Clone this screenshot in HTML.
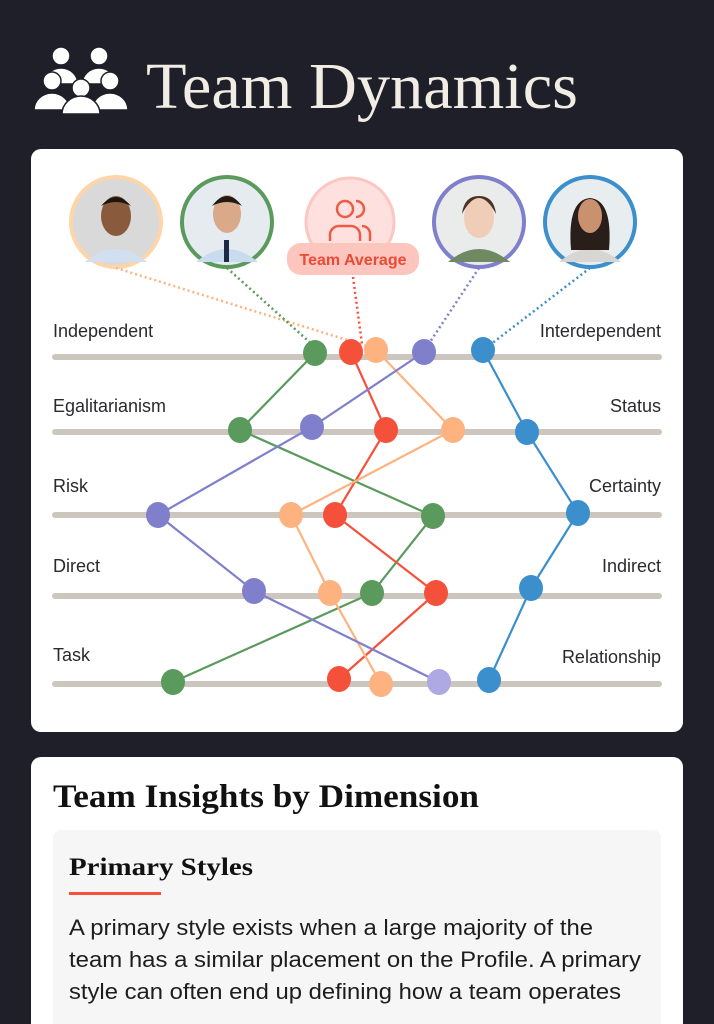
<!DOCTYPE html>
<html><head><meta charset="utf-8"><style>
html,body{margin:0;padding:0;background:#1e1f29;width:714px;height:1024px;overflow:hidden}
svg{display:block}
</style></head><body>
<svg width="714" height="1024" viewBox="0 0 714 1024" xmlns="http://www.w3.org/2000/svg">
<rect width="714" height="1024" fill="#1e1f29"/>
<!-- logo -->
<g fill="#ffffff" stroke="#1e1f29" stroke-width="1.5">
<circle cx="61" cy="56" r="9"/><circle cx="99" cy="56" r="9"/>
<path d="M44 84 a17 16 0 0 1 34 0 z"/><path d="M82 84 a17 16 0 0 1 34 0 z"/>
<circle cx="52" cy="81" r="9"/><circle cx="110" cy="81" r="9"/><circle cx="81" cy="88" r="9"/>
<path d="M34 110 a18 17 0 0 1 36 0 z"/><path d="M92 110 a18 17 0 0 1 36 0 z"/>
<path d="M62 114 a19 18 0 0 1 38 0 z"/>
</g>
<text x="146" y="108" font-family="Liberation Serif, serif" font-size="66" fill="#f1ede4" textLength="432" lengthAdjust="spacingAndGlyphs">Team Dynamics</text>

<!-- card 1 -->
<rect x="31" y="149" width="652" height="583" rx="10" fill="#ffffff"/>
<g>
<circle cx="116" cy="222" r="45" fill="#d9d9d9" stroke="#fdd5a8" stroke-width="4"/>
<path d="M85 262 q31-26 62 0 z" fill="#d2dff0"/><ellipse cx="116" cy="216" rx="15" ry="20" fill="#8a5a3c"/><path d="M101 206 q15-18 30 0 q-15-8-30 0z" fill="#1d1510"/>
<circle cx="227" cy="222" r="45" fill="#e6ebf0" stroke="#5a9a5c" stroke-width="4"/>
<path d="M196 262 q31-26 62 0 z" fill="#c9dbee"/><rect x="224" y="240" width="5" height="22" fill="#1d2a44"/><ellipse cx="227" cy="214" rx="14" ry="19" fill="#d9a98a"/><path d="M212 206 q15-20 30 0 q-15-8-30 0z" fill="#221a16"/>
<circle cx="350" cy="222" r="44" fill="#fee1df" stroke="#fcc7c1" stroke-width="3"/>
<g fill="none" stroke="#ef5a45" stroke-width="2.5"><circle cx="345" cy="209" r="8"/><path d="M356 201 a8 8 0 0 1 0 16"/><path d="M330 241 v-6 a9 9 0 0 1 9-9 h12 a9 9 0 0 1 9 9 v6"/><path d="M362 226 a8 8 0 0 1 8 9 v6"/></g>
<rect x="287" y="243" width="132" height="32" rx="14" fill="#fcc6bf"/>
<text x="353" y="265" text-anchor="middle" font-family="Liberation Sans, sans-serif" font-weight="bold" font-size="16" fill="#ea4a35">Team Average</text>
<circle cx="479" cy="222" r="45" fill="#e9ecea" stroke="#7f7fcc" stroke-width="4"/>
<path d="M448 262 q31-26 62 0 z" fill="#6f8a62"/><ellipse cx="479" cy="218" rx="15" ry="20" fill="#f0cdb6"/><path d="M462 214 q17-32 34 0 q-2-18-17-18 q-15 0-17 18z" fill="#4a3226"/>
<circle cx="590" cy="222" r="45" fill="#e8eef0" stroke="#3a8fcc" stroke-width="4"/>
<path d="M559 262 q31-26 62 0 z" fill="#d8d6d2"/><path d="M571 250 q-4-50 19-52 q23 2 19 52z" fill="#2a1e1a"/><ellipse cx="590" cy="216" rx="12" ry="17" fill="#c9916e"/>
</g>
<g fill="none" stroke-width="2.5" stroke-dasharray="2 3">
<line x1="116" y1="268" x2="376" y2="349" stroke="#fdb27f"/>
<line x1="227" y1="268" x2="315" y2="347" stroke="#5a9a5c"/>
<line x1="353" y1="277" x2="362" y2="344" stroke="#f5503a"/>
<line x1="479" y1="268" x2="426" y2="348" stroke="#7f7fcc"/>
<line x1="590" y1="268" x2="486" y2="348" stroke="#3a8fcc"/>
</g>
<g stroke="#cdc6bf" stroke-width="6" stroke-linecap="round">
<line x1="55" y1="357" x2="659" y2="357"/><line x1="55" y1="432" x2="659" y2="432"/>
<line x1="55" y1="515" x2="659" y2="515"/><line x1="55" y1="596" x2="659" y2="596"/>
<line x1="55" y1="684" x2="659" y2="684"/>
</g>
<g font-family="Liberation Sans, sans-serif" font-size="18" fill="#2a2a2e">
<text x="53" y="337">Independent</text><text x="661" y="337" text-anchor="end">Interdependent</text>
<text x="53" y="412">Egalitarianism</text><text x="661" y="412" text-anchor="end">Status</text>
<text x="53" y="492">Risk</text><text x="661" y="492" text-anchor="end">Certainty</text>
<text x="53" y="572">Direct</text><text x="661" y="572" text-anchor="end">Indirect</text>
<text x="53" y="661">Task</text><text x="661" y="663" text-anchor="end">Relationship</text>
</g>
<g fill="none" stroke-width="2.2">
<polyline points="315,353 240,430 433,516 372,593 173,682" stroke="#5a9a5c"/>
<polyline points="351,352 386,430 335,515 436,593 339,679" stroke="#f5503a"/>
<polyline points="376,350 453,430 291,515 330,593 381,684" stroke="#fdb27f"/>
<polyline points="424,352 312,427 158,515 254,591 439,682" stroke="#7f7fcc"/>
<polyline points="483,350 527,432 578,513 531,588 489,680" stroke="#3a8fcc"/>
</g>
<g>
<ellipse cx="315" cy="353" rx="12" ry="13" fill="#5a9a5c"/><ellipse cx="351" cy="352" rx="12" ry="13" fill="#f5503a"/><ellipse cx="376" cy="350" rx="12" ry="13" fill="#fdb27f"/><ellipse cx="424" cy="352" rx="12" ry="13" fill="#7f7fcc"/><ellipse cx="483" cy="350" rx="12" ry="13" fill="#3a8fcc"/>
<ellipse cx="240" cy="430" rx="12" ry="13" fill="#5a9a5c"/><ellipse cx="312" cy="427" rx="12" ry="13" fill="#7f7fcc"/><ellipse cx="386" cy="430" rx="12" ry="13" fill="#f5503a"/><ellipse cx="453" cy="430" rx="12" ry="13" fill="#fdb27f"/><ellipse cx="527" cy="432" rx="12" ry="13" fill="#3a8fcc"/>
<ellipse cx="158" cy="515" rx="12" ry="13" fill="#7f7fcc"/><ellipse cx="291" cy="515" rx="12" ry="13" fill="#fdb27f"/><ellipse cx="335" cy="515" rx="12" ry="13" fill="#f5503a"/><ellipse cx="433" cy="516" rx="12" ry="13" fill="#5a9a5c"/><ellipse cx="578" cy="513" rx="12" ry="13" fill="#3a8fcc"/>
<ellipse cx="254" cy="591" rx="12" ry="13" fill="#7f7fcc"/><ellipse cx="330" cy="593" rx="12" ry="13" fill="#fdb27f"/><ellipse cx="372" cy="593" rx="12" ry="13" fill="#5a9a5c"/><ellipse cx="436" cy="593" rx="12" ry="13" fill="#f5503a"/><ellipse cx="531" cy="588" rx="12" ry="13" fill="#3a8fcc"/>
<ellipse cx="173" cy="682" rx="12" ry="13" fill="#5a9a5c"/><ellipse cx="339" cy="679" rx="12" ry="13" fill="#f5503a"/><ellipse cx="381" cy="684" rx="12" ry="13" fill="#fdb27f"/><ellipse cx="439" cy="682" rx="12" ry="13" fill="#aea9e2"/><ellipse cx="489" cy="680" rx="12" ry="13" fill="#3a8fcc"/>
</g>

<!-- card 2 -->
<rect x="31" y="757" width="652" height="300" rx="10" fill="#ffffff"/>
<text x="53" y="807" font-family="Liberation Serif, serif" font-weight="bold" font-size="33" fill="#111111" textLength="426" lengthAdjust="spacingAndGlyphs">Team Insights by Dimension</text>
<rect x="53" y="830" width="608" height="240" rx="8" fill="#f6f6f6"/>
<text x="69" y="875" font-family="Liberation Serif, serif" font-weight="bold" font-size="25" fill="#111111" textLength="184" lengthAdjust="spacingAndGlyphs">Primary Styles</text>
<rect x="69" y="892" width="92" height="3" fill="#f5503a"/>
<g font-family="Liberation Sans, sans-serif" font-size="22" fill="#1d1d1d">
<text x="69" y="935" textLength="524" lengthAdjust="spacingAndGlyphs">A primary style exists when a large majority of the</text>
<text x="69" y="967" textLength="572" lengthAdjust="spacingAndGlyphs">team has a similar placement on the Profile. A primary</text>
<text x="69" y="999" textLength="552" lengthAdjust="spacingAndGlyphs">style can often end up defining how a team operates</text>
</g>
</svg>
</body></html>
